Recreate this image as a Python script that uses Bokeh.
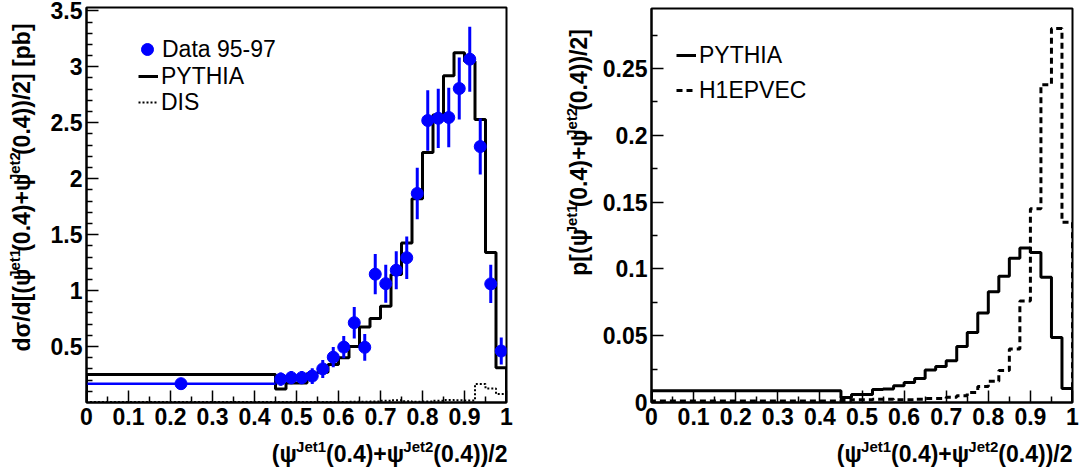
import math
from bokeh.plotting import figure
from bokeh.models import (Range1d, FixedTicker, CustomJSTickFormatter,
                          Legend, LegendItem, ColumnDataSource)
from bokeh.core.properties import value
from bokeh.layouts import row, column
from bokeh.embed import file_html
from bokeh.resources import INLINE

# ---------------- data ----------------
bin_edges = [0.0, 0.45, 0.475, 0.5, 0.525, 0.55, 0.575, 0.6, 0.625, 0.65, 0.675,
             0.7, 0.725, 0.75, 0.775, 0.8, 0.825, 0.85, 0.875, 0.9, 0.925, 0.95,
             0.975, 1.0]

# left panel: d sigma / d[...]  [pb]
data_xsec = [0.168, 0.209, 0.222, 0.222, 0.236, 0.300, 0.405, 0.495, 0.713, 0.493,
             1.147, 1.062, 1.182, 1.294, 1.868, 2.520, 2.540, 2.547, 2.806, 3.068,
             2.287, 1.060, 0.460]
data_err = [0.05, 0.06, 0.06, 0.06, 0.07, 0.08, 0.09, 0.10, 0.14, 0.12,
            0.18, 0.17, 0.17, 0.19, 0.23, 0.27, 0.265, 0.265, 0.277, 0.29,
            0.25, 0.17, 0.12]
pythia_xsec = [0.25, 0.12, 0.175, 0.175, 0.26, 0.27, 0.34, 0.40, 0.50, 0.675,
               0.75, 0.86, 1.145, 1.425, 1.82, 2.235, 2.57, 2.92, 3.125, 3.05,
               2.53, 1.34, 0.31]
dis_xsec = [0.005, 0.004, 0.004, 0.004, 0.004, 0.004, 0.005, 0.005, 0.006, 0.007,
            0.008, 0.015, 0.020, 0.012, 0.006, 0.008, 0.015, 0.022, 0.020, 0.018,
            0.165, 0.125, 0.075]

# right panel: probability per bin
pythia_prob = [0.0088, 0.0037, 0.006, 0.006, 0.0097, 0.0102, 0.0125, 0.015, 0.018,
               0.0243, 0.027, 0.0313, 0.042, 0.0525, 0.067, 0.083, 0.0945, 0.108,
               0.1157, 0.1124, 0.0937, 0.0487, 0.0105]
h1epvec_prob = [0.0012, 0.0015, 0.002, 0.002, 0.0025, 0.0025, 0.002, 0.002, 0.0025,
                0.003, 0.003, 0.004, 0.005, 0.0075, 0.012, 0.016, 0.024, 0.040,
                0.076, 0.145, 0.238, 0.280, 0.135]

x_ticks = [0.0, 0.1, 0.2, 0.3, 0.4, 0.5, 0.6, 0.7, 0.8, 0.9, 1.0]
x_minor = [0.05, 0.15, 0.25, 0.35, 0.45, 0.55, 0.65, 0.75, 0.85, 0.95]
left_y_ticks = [0.5, 1.0, 1.5, 2.0, 2.5, 3.0, 3.5]
left_y_minor = [0.1, 0.2, 0.3, 0.4, 0.6, 0.7, 0.8, 0.9, 1.1, 1.2, 1.3, 1.4, 1.6,
                1.7, 1.8, 1.9, 2.1, 2.2, 2.3, 2.4, 2.6, 2.7, 2.8, 2.9, 3.1, 3.2,
                3.3, 3.4]
right_y_ticks = [0.0, 0.05, 0.1, 0.15, 0.2, 0.25]
right_y_minor = [0.025, 0.075, 0.125, 0.175, 0.225, 0.275]

x_title_parts = [("(ψ", False), ("Jet1", True), ("(0.4)+ψ", False), ("Jet2", True),
                 ("(0.4))/2", False)]
left_y_title_parts = [("dσ/d[(ψ", False), ("Jet1", True), ("(0.4)+ψ", False),
                      ("Jet2", True), ("(0.4))/2] [pb]", False)]
right_y_title_parts = [("p[(ψ", False), ("Jet1", True), ("(0.4)+ψ", False),
                       ("Jet2", True), ("(0.4))/2]", False)]

FONT = "Liberation Sans"
BLUE = "#0000ff"
TICK_PX = "23px"
LEG_PX = "23px"

# ---------------- helpers ----------------
def step_path(edges, vals):
    xs, ys = [edges[0]], [0.0]
    for i, v in enumerate(vals):
        xs += [edges[i], edges[i + 1]]
        ys += [v, v]
    xs.append(edges[-1])
    ys.append(0.0)
    return xs, ys

EM = {' ': 0.278, '(': 0.333, ')': 0.333, '+': 0.584, '.': 0.278, '/': 0.278,
      '[': 0.333, ']': 0.333, 'J': 0.556, 'e': 0.556, 't': 0.333, 'p': 0.611,
      'b': 0.611, 'd': 0.611, 'σ': 0.62, 'ψ': 0.72}
for _c in "0123456789":
    EM[_c] = 0.556

def tw(text, size):
    return sum(EM.get(c, 0.6) for c in text) * size

MAIN, SUP, RAISE = 23, 15, 11
MID = 0.35        # centre of text box above the baseline, in em
ROT_SHIFT = 23    # empirical correction for rotated text placement (px)

def text_fig(w, h):
    f = figure(width=w, height=h, x_range=Range1d(0, w), y_range=Range1d(0, h),
               output_backend="svg", toolbar_location=None, min_border=0, title=None)
    f.axis.visible = False
    f.xgrid.visible = False
    f.ygrid.visible = False
    f.outline_line_color = None
    f.background_fill_color = "white"
    f.border_fill_color = "white"
    return f

def draw_pieces(f, xs, ys, texts, sizes, angle):
    src = ColumnDataSource(dict(x=xs, y=ys, t=texts, s=[f"{v}px" for v in sizes]))
    f.text(x="x", y="y", text="t", source=src, angle=angle, text_font=value(FONT),
           text_font_size="s", text_font_style="bold", text_align="left",
           text_baseline="middle", text_color="black")

def x_title(f, pieces, right_x, base_y):
    total = sum(tw(t, SUP if s else MAIN) for t, s in pieces)
    cum = 0.0
    xs, ys, ts, ss = [], [], [], []
    for t, s in pieces:
        fs = SUP if s else MAIN
        xs.append(right_x - total + cum)
        ys.append(base_y + (RAISE if s else 0) + MID * fs)
        ts.append(t)
        ss.append(fs)
        cum += tw(t, fs)
    draw_pieces(f, xs, ys, ts, ss, 0.0)

def y_title(f, pieces, base_x, top_y):
    total = sum(tw(t, SUP if s else MAIN) for t, s in pieces)
    cum = 0.0
    xs, ys, ts, ss = [], [], [], []
    for t, s in pieces:
        fs = SUP if s else MAIN
        xs.append(base_x - (RAISE if s else 0) - MID * fs)
        ys.append(top_y - total + cum - ROT_SHIFT)
        ts.append(t)
        ss.append(fs)
        cum += tw(t, fs)
    draw_pieces(f, xs, ys, ts, ss, math.pi / 2)

def style(p, yt, ym):
    p.xgrid.visible = False
    p.ygrid.visible = False
    p.outline_line_color = "black"
    p.outline_line_width = 2
    p.outline_line_alpha = 1
    p.background_fill_color = "white"
    p.border_fill_color = "white"
    p.xaxis.ticker = FixedTicker(ticks=x_ticks, minor_ticks=x_minor)
    p.yaxis.ticker = FixedTicker(ticks=yt, minor_ticks=ym)
    fmt = "return String(Math.round(tick*1000)/1000);"
    p.xaxis.formatter = CustomJSTickFormatter(code=fmt)
    p.yaxis.formatter = CustomJSTickFormatter(code=fmt)
    for ax in (p.xaxis[0], p.yaxis[0]):
        ax.axis_line_width = 2
        ax.axis_line_color = "black"
        ax.major_tick_in = 12
        ax.major_tick_out = 0
        ax.minor_tick_in = 6
        ax.minor_tick_out = 0
        ax.major_tick_line_width = 1.5
        ax.minor_tick_line_width = 1.5
        ax.major_tick_line_color = "black"
        ax.minor_tick_line_color = "black"
        ax.major_label_text_font = FONT
        ax.major_label_text_font_style = "bold"
        ax.major_label_text_font_size = TICK_PX
        ax.major_label_text_color = "black"
    p.xaxis.major_label_standoff = 5
    p.yaxis.major_label_standoff = 4

def one_legend(p, renderer, label, loc, gw, gh, standoff):
    lg = Legend(items=[LegendItem(label=label, renderers=[renderer])], location=loc,
                glyph_width=gw, glyph_height=gh, label_height=gh, label_standoff=standoff,
                padding=0, margin=0, spacing=0, border_line_alpha=0,
                background_fill_alpha=0, label_text_font=FONT,
                label_text_font_size=LEG_PX, label_text_color="black",
                label_text_baseline="middle")
    p.add_layout(lg)

MAIN_H = 438
TITLE_H = 470 - MAIN_H

# ---------------- left panel ----------------
centers = [(bin_edges[i] + bin_edges[i + 1]) / 2 for i in range(len(data_xsec))]

YT1_W = 44
p1 = figure(width=540 - YT1_W, height=MAIN_H, x_range=Range1d(0, 1),
            y_range=Range1d(0, 3.53), output_backend="svg", toolbar_location=None,
            title=None, min_border_left=42, min_border_right=34, min_border_top=7,
            min_border_bottom=36)
style(p1, left_y_ticks, left_y_minor)

dx, dy = step_path(bin_edges, dis_xsec)
r_dis = p1.line(dx, dy, line_color="black", line_width=2, line_dash="2 2")
px, py = step_path(bin_edges, pythia_xsec)
r_py = p1.line(px, py, line_color="black", line_width=3)

src = ColumnDataSource(dict(
    x=centers, y=data_xsec,
    lo=[v - e for v, e in zip(data_xsec, data_err)],
    hi=[v + e for v, e in zip(data_xsec, data_err)],
    xl=bin_edges[:-1], xh=bin_edges[1:]))
p1.segment(x0="x", y0="lo", x1="x", y1="hi", source=src, line_color=BLUE, line_width=3)
p1.segment(x0="xl", y0="y", x1="xh", y1="y", source=src, line_color=BLUE, line_width=2.5)
r_data = p1.scatter("x", "y", source=src, size=12, marker="circle",
                    fill_color=BLUE, line_color=BLUE)

one_legend(p1, r_data, "Data 95-97", (46, 338), 30, 30, 0)
one_legend(p1, r_py, "PYTHIA", (52, 311), 20, 30, 3)
one_legend(p1, r_dis, "DIS", (52, 285), 20, 30, 3)

yt1 = text_fig(YT1_W, MAIN_H)
y_title(yt1, left_y_title_parts, 30, MAIN_H - 9)
xt1 = text_fig(540, TITLE_H)
x_title(xt1, x_title_parts, 507, 8)

# ---------------- right panel ----------------
YT2_W = 58
p2 = figure(width=540 - YT2_W, height=MAIN_H, x_range=Range1d(0, 1),
            y_range=Range1d(0, 0.295), output_backend="svg", toolbar_location=None,
            title=None, min_border_left=53, min_border_right=8, min_border_top=8,
            min_border_bottom=36)
style(p2, right_y_ticks, right_y_minor)

hx, hy = step_path(bin_edges, h1epvec_prob)
r_h1 = p2.line(hx, hy, line_color="black", line_width=3, line_dash="6 4")
qx, qy = step_path(bin_edges, pythia_prob)
r_py2 = p2.line(qx, qy, line_color="black", line_width=3)

one_legend(p2, r_py2, "PYTHIA", (25, 332), 20, 30, 3)
one_legend(p2, r_h1, "H1EPVEC", (25, 297), 20, 30, 3)

yt2 = text_fig(YT2_W, MAIN_H)
y_title(yt2, right_y_title_parts, 47, MAIN_H - 9)
xt2 = text_fig(540, TITLE_H)
x_title(xt2, x_title_parts, 532, 8)

left = column(row(yt1, p1), xt1)
right = column(row(yt2, p2), xt2)
layout = row(left, right)
open("out.html", "w").write(file_html(layout, INLINE))
